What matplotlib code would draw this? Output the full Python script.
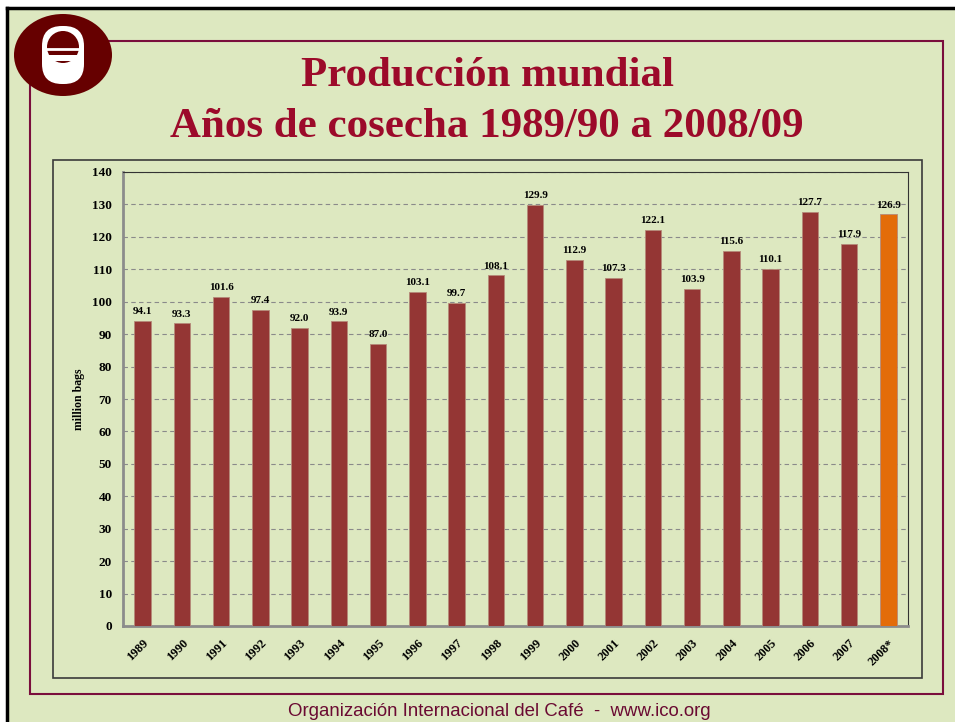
import matplotlib.pyplot as plt
from matplotlib.patches import Rectangle, Ellipse, FancyBboxPatch
import numpy as np

years = ['1989', '1990', '1991', '1992', '1993', '1994', '1995', '1996', '1997', '1998',
         '1999', '2000', '2001', '2002', '2003', '2004', '2005', '2006', '2007', '2008*']
production = [94.1, 93.3, 101.6, 97.4, 92.0, 93.9, 87.0, 103.1, 99.7, 108.1,
              129.9, 112.9, 107.3, 122.1, 103.9, 115.6, 110.1, 127.7, 117.9, 126.9]
yticks = list(range(0, 141, 10))

bg = '#DDE8C0'
bar_color = '#943634'
last_color = '#E36C09'
maroon = '#7A0E3C'

W, H = 955, 722
fig = plt.figure(figsize=(W / 100, H / 100), dpi=100)
fig.patch.set_facecolor('white')

# full-figure canvas in pixel coordinates for frames, logo, titles
bgax = fig.add_axes([0, 0, 1, 1])
bgax.set_xlim(0, W)
bgax.set_ylim(H, 0)
bgax.axis('off')
bgax.add_patch(Rectangle((7, 8), W, H, facecolor=bg, edgecolor='none'))
bgax.plot([7, W], [8, 8], color='black', lw=2.5)
bgax.plot([7, 7], [8, H], color='black', lw=2.5)

# maroon slide frame
bgax.add_patch(Rectangle((30, 41), 913, 653, fill=False, edgecolor=maroon, lw=1.5))
# chart area frame
bgax.add_patch(Rectangle((53, 160), 869, 518, fill=False, edgecolor='#3a3a3a', lw=1.2))

# logo
bgax.add_patch(Ellipse((63, 55), 98, 82, facecolor='#660000', edgecolor='none'))
bgax.add_patch(FancyBboxPatch((42, 26), 42, 58, boxstyle='round,pad=0,rounding_size=20',
                              facecolor='white', edgecolor='none'))
bgax.add_patch(Ellipse((63, 47), 32, 32, facecolor='#660000', edgecolor='none'))
bgax.plot([44, 82], [49, 49], color='white', lw=2)
bgax.add_patch(Rectangle((43, 55), 40, 6, facecolor='white', edgecolor='none'))

title_color = '#9C0A2A'
bgax.text(487, 76, 'Producción mundial', ha='center', va='center', fontsize=31,
          fontweight='bold', family='Liberation Serif', color=title_color)
bgax.text(487, 127, 'Años de cosecha 1989/90 a 2008/09', ha='center', va='center',
          fontsize=31, fontweight='bold', family='Liberation Serif', color=title_color)
bgax.text(499, 712, 'Organización Internacional del Café  -  www.ico.org', ha='center',
          va='center', fontsize=13.4, family='Liberation Sans', color='#6A0A32')

# bar chart
left, right, top, bottom = 123, 908, 172, 626
ax = fig.add_axes([left / W, 1 - bottom / H, (right - left) / W, (bottom - top) / H])
ax.set_facecolor(bg)
x = np.arange(len(years))
colors = [bar_color] * (len(years) - 1) + [last_color]
ax.bar(x, production, width=0.42, color=colors, edgecolor='#B58A7A', linewidth=0.6, zorder=3)
for xi, v in zip(x, production):
    ax.text(xi, v + 1.5, f'{v:.1f}', ha='center', va='bottom', fontsize=8,
            fontweight='bold', family='Liberation Serif', zorder=4)

ax.set_xlim(-0.5, len(years) - 0.5)
ax.set_ylim(0, 140)
ax.set_yticks(yticks)
ax.set_yticklabels([str(t) for t in yticks], fontsize=9.5, fontweight='bold', family='Liberation Serif')
ax.set_xticks(x)
ax.set_xticklabels(years, rotation=45, ha='right', rotation_mode='anchor', fontsize=9,
                   fontweight='bold', family='Liberation Serif')
ax.tick_params(axis='y', length=0, pad=8)
ax.tick_params(axis='x', length=0, pad=8)
ax.grid(axis='y', color='#8a8a8a', linestyle=(0, (4, 3)), linewidth=0.8, zorder=1)
ax.set_axisbelow(True)
ax.spines['left'].set_color('#8c8c8c')
ax.spines['bottom'].set_color('#8c8c8c')
ax.spines['left'].set_linewidth(2)
ax.spines['bottom'].set_linewidth(2)
ax.spines['top'].set_color('#333333')
ax.spines['right'].set_color('#333333')
ax.spines['top'].set_linewidth(0.8)
ax.spines['right'].set_linewidth(0.8)
ax.set_ylabel('million bags', fontsize=8.5, fontweight='bold', family='Liberation Serif', labelpad=5)

fig.savefig('out.png', dpi=100, facecolor=fig.get_facecolor())
